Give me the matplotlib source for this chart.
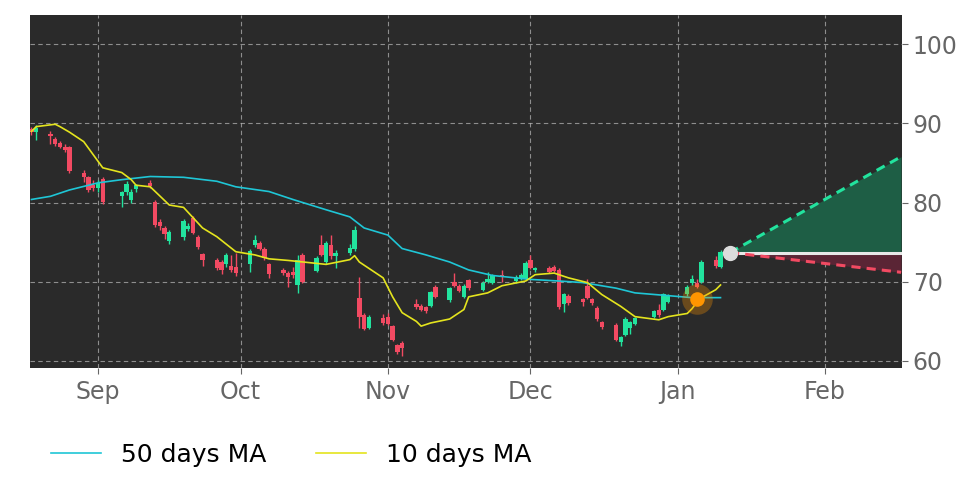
import matplotlib
matplotlib.use('Agg')
import matplotlib.pyplot as plt
import matplotlib.dates as mdates
import numpy as np
import pandas as pd
from matplotlib.lines import Line2D

# ---------------- data ----------------
holidays = ['2022-09-05', '2022-11-24', '2022-12-26', '2023-01-02']
dates = pd.bdate_range('2022-08-18', '2023-01-10')
dates = dates[~dates.isin(pd.to_datetime(holidays))]

opens = [89.3, 88.9, 88.7, 88.0, 87.5, 87.0, 87.0, 83.8, 83.2, 82.2,
         81.9, 83.0, 80.8, 81.3, 80.3, 81.7, 82.5, 80.1, 77.6, 76.8,
         75.1, 75.6, 76.7, 78.1, 75.7, 73.5, 72.7, 72.5, 72.2, 72.0,
         71.9, 72.2, 74.7, 74.9, 74.2, 72.2, 71.5, 71.1, 71.3, 69.6,
         73.4, 71.4, 74.7, 72.5, 74.7, 73.2, 73.7, 74.1, 68.0, 65.8,
         64.2, 65.4, 65.6, 64.4, 62.0, 62.3, 67.2, 66.9, 66.8, 67.0,
         69.4, 67.7, 70.0, 69.5, 68.1, 70.2, 69.0, 70.0, 69.9, 70.9,
         70.1, 70.4, 70.4, 72.8, 71.5, 71.8, 71.9, 71.5, 67.2, 68.2,
         67.8, 69.5, 67.8, 66.7, 64.9, 64.6, 62.4, 63.3, 64.2, 64.7,
         65.6, 66.4, 66.5, 67.5, 68.4, 69.9, 69.9, 70.0, 72.8, 71.9]
highs = [89.6, 89.8, 89.0, 88.3, 87.8, 87.4, 87.2, 84.1, 83.4, 82.8,
         82.8, 83.3, 81.5, 82.7, 81.7, 82.4, 82.8, 80.3, 77.9, 77.0,
         76.5, 77.9, 77.4, 78.3, 75.9, 73.7, 73.0, 72.8, 73.6, 73.4,
         73.6, 74.2, 75.9, 75.2, 74.4, 72.4, 71.8, 71.4, 71.9, 73.4,
         73.6, 73.2, 75.9, 75.1, 75.9, 74.0, 74.8, 77.0, 70.6, 66.0,
         65.8, 65.9, 66.0, 64.6, 62.2, 62.5, 67.8, 67.2, 67.0, 68.9,
         69.6, 69.4, 71.1, 69.7, 69.7, 70.4, 70.1, 71.2, 71.0, 71.5,
         70.8, 71.1, 72.6, 73.4, 71.9, 72.0, 72.1, 71.8, 68.6, 68.4,
         68.0, 70.3, 68.0, 66.9, 65.1, 64.8, 63.2, 65.5, 65.1, 65.6,
         66.5, 67.2, 68.6, 68.4, 69.6, 70.8, 70.4, 72.7, 73.2, 74.0]
lows = [88.6, 87.9, 87.4, 87.2, 86.9, 86.4, 83.8, 82.6, 81.4, 81.5,
        81.4, 79.8, 79.4, 81.0, 80.0, 81.4, 81.9, 76.9, 76.6, 75.4,
        74.8, 75.3, 76.4, 76.0, 74.2, 72.0, 71.5, 71.0, 71.9, 71.2,
        70.7, 71.3, 74.4, 74.0, 72.8, 70.5, 70.9, 69.4, 70.5, 68.6,
        69.9, 71.2, 73.2, 72.3, 72.9, 71.8, 73.4, 73.9, 64.2, 63.9,
        64.0, 64.6, 64.5, 62.5, 60.9, 60.6, 66.6, 66.3, 66.1, 66.8,
        67.9, 67.5, 69.3, 68.7, 67.9, 69.0, 68.8, 69.8, 69.7, 70.0,
        69.9, 70.2, 70.2, 71.6, 71.3, 71.1, 71.2, 66.6, 66.2, 67.1,
        66.9, 67.8, 67.1, 65.1, 64.1, 62.5, 61.9, 63.1, 63.4, 64.5,
        65.4, 65.6, 66.3, 67.3, 68.2, 69.6, 69.2, 69.8, 71.8, 71.7]
closes = [88.9, 89.4, 88.4, 87.4, 87.0, 86.6, 84.0, 83.3, 81.6, 81.8,
          82.5, 80.1, 81.3, 82.4, 81.4, 82.2, 82.1, 77.2, 77.0, 76.1,
          76.3, 77.7, 77.1, 76.2, 74.4, 72.7, 71.8, 71.5, 73.4, 71.5,
          71.1, 73.9, 75.3, 74.2, 73.0, 71.0, 71.1, 70.6, 70.9, 72.8,
          70.0, 73.0, 73.4, 74.9, 73.2, 73.7, 74.3, 76.6, 65.6, 64.1,
          65.6, 64.8, 64.7, 62.7, 61.1, 61.6, 66.8, 66.5, 66.3, 68.7,
          68.1, 69.2, 69.5, 68.9, 69.5, 69.2, 69.9, 70.3, 70.8, 70.6,
          70.6, 70.9, 72.4, 71.8, 71.8, 71.3, 71.4, 66.8, 68.4, 67.3,
          67.5, 68.0, 67.3, 65.3, 64.3, 62.7, 63.0, 65.3, 64.9, 65.4,
          66.3, 65.8, 68.4, 68.2, 69.4, 70.3, 69.4, 72.5, 72.0, 73.8]

ma50_dates = ['2022-08-18', '2022-08-22', '2022-08-26', '2022-09-01', '2022-09-06',
              '2022-09-12', '2022-09-19', '2022-09-26', '2022-09-30', '2022-10-07',
              '2022-10-12', '2022-10-19', '2022-10-24', '2022-10-27', '2022-11-01',
              '2022-11-04', '2022-11-09', '2022-11-14', '2022-11-18', '2022-11-23',
              '2022-12-01', '2022-12-07', '2022-12-12', '2022-12-19', '2022-12-23',
              '2022-12-29', '2023-01-04', '2023-01-10']
ma50_vals = [80.4, 80.8, 81.6, 82.5, 82.9, 83.3, 83.2, 82.7, 82.0, 81.4,
             80.4, 79.1, 78.2, 76.8, 75.9, 74.2, 73.4, 72.5, 71.5, 70.8,
             70.3, 70.1, 69.9, 69.2, 68.6, 68.3, 68.0, 68.0]

ma10_dates = ['2022-08-18', '2022-08-19', '2022-08-23', '2022-08-24', '2022-08-26',
              '2022-08-29', '2022-09-02', '2022-09-06', '2022-09-08', '2022-09-09',
              '2022-09-12', '2022-09-16', '2022-09-19', '2022-09-23', '2022-09-26',
              '2022-09-30', '2022-10-04', '2022-10-07', '2022-10-11', '2022-10-19',
              '2022-10-24', '2022-10-25', '2022-10-26', '2022-10-31', '2022-11-02',
              '2022-11-04', '2022-11-07', '2022-11-08', '2022-11-10', '2022-11-14',
              '2022-11-17', '2022-11-18', '2022-11-22', '2022-11-25', '2022-11-30',
              '2022-12-02', '2022-12-06', '2022-12-09', '2022-12-13', '2022-12-16',
              '2022-12-20', '2022-12-23', '2022-12-28', '2022-12-30', '2023-01-03',
              '2023-01-04', '2023-01-05', '2023-01-06', '2023-01-09', '2023-01-10']
ma10_vals = [89.0, 89.6, 89.9, 89.6, 88.9, 87.7, 84.4, 83.8, 82.9, 82.2,
             82.0, 79.7, 79.4, 76.8, 75.7, 73.8, 73.4, 72.9, 72.7, 72.2,
             72.8, 73.3, 72.5, 70.5, 68.1, 66.1, 65.0, 64.4, 64.8, 65.3,
             66.5, 68.1, 68.6, 69.5, 70.1, 70.9, 71.1, 70.5, 69.9, 68.4,
             66.9, 65.6, 65.2, 65.6, 66.0, 66.6, 67.4, 68.0, 69.0, 69.6]

forecast_dates = ['2023-01-12', '2023-02-17']
forecast_base = [73.7, 73.7]
forecast_upper = [73.7, 85.8]
forecast_lower = [73.7, 71.2]

last_point = ('2023-01-12', 73.7)
cross_point = ('2023-01-05', 67.8)

month_ticks = ['2022-09-01', '2022-10-01', '2022-11-01', '2022-12-01', '2023-01-01', '2023-02-01']
month_labels = ['Sep', 'Oct', 'Nov', 'Dec', 'Jan', 'Feb']
y_ticks = [60, 70, 80, 90, 100]

# ---------------- styling ----------------
UP = '#22e39e'
DOWN = '#f24a62'
BG = '#2a2a2a'
TICKC = '#666666'

fig = plt.figure(figsize=(9.72, 4.86), dpi=100)
ax = fig.add_axes([30 / 972, 1 - 367.7 / 486, (901.7 - 30) / 972, (367.7 - 15) / 486])
ax.set_facecolor(BG)

x = mdates.date2num(dates.to_pydatetime())
o = np.array(opens); h = np.array(highs); l = np.array(lows); c = np.array(closes)
up = c >= o
cols = np.where(up, UP, DOWN)

ax.vlines(x, l, h, colors=cols, linewidth=1.0, zorder=3)
body_bottom = np.minimum(o, c)
body_h = np.maximum(np.abs(c - o), 0.1)
ax.bar(x, body_h, bottom=body_bottom, width=0.92, color=cols, linewidth=0, zorder=4)

# moving averages
x50 = mdates.date2num(pd.to_datetime(ma50_dates).to_pydatetime())
x10 = mdates.date2num(pd.to_datetime(ma10_dates).to_pydatetime())
ax.plot(x50, ma50_vals, color='#1fc6d6', linewidth=1.2, zorder=5)
ax.plot(x10, ma10_vals, color='#e4e41e', linewidth=1.2, zorder=5)

# forecast cone
xf = mdates.date2num(pd.to_datetime(forecast_dates).to_pydatetime())
ax.fill_between(xf, forecast_base, forecast_upper, color='#1e5e45', linewidth=0, zorder=2)
ax.fill_between(xf, forecast_lower, forecast_base, color='#5a2535', linewidth=0, zorder=2)
ax.plot(xf, forecast_base, color='#e8e8e8', linewidth=2.2, zorder=6)
ax.plot(xf, forecast_upper, color='#22e39e', linewidth=2.2, linestyle=(0, (3, 2)), zorder=6)
ax.plot(xf, forecast_lower, color='#f24a62', linewidth=2.2, linestyle=(0, (3, 2)), zorder=6)

# markers
lx = mdates.date2num(pd.to_datetime(last_point[0]))
ax.plot([lx], [last_point[1]], 'o', color='#dcdcdc', markersize=10, zorder=8)
cx = mdates.date2num(pd.to_datetime(cross_point[0]))
ax.plot([cx], [cross_point[1]], 'o', color='#ff9500', alpha=0.3, markersize=22, markeredgewidth=0, zorder=7)
ax.plot([cx], [cross_point[1]], 'o', color='#ff9500', markersize=10.5, markeredgewidth=0, zorder=8)

# axes
x0 = mdates.date2num(pd.Timestamp('2022-08-17')) + 0.69
x1 = mdates.date2num(pd.Timestamp('2023-02-17')) + 0.13
ax.set_xlim(x0, x1)
ax.set_ylim(59.15, 103.7)

ax.set_xticks(mdates.date2num(pd.to_datetime(month_ticks).to_pydatetime()))
ax.set_xticklabels(month_labels)
ax.set_yticks(y_ticks)
ax.set_yticklabels([str(v) for v in y_ticks])
ax.yaxis.tick_right()
ax.tick_params(axis='both', colors=TICKC, labelsize=17, length=4, width=0.8)
ax.tick_params(axis='x', pad=5)
ax.tick_params(axis='y', pad=4)

ax.grid(True, color='#b0b0b0', linestyle=(0, (4, 3)), linewidth=0.8, alpha=0.75)
ax.set_axisbelow(True)
for s in ax.spines.values():
    s.set_visible(False)

handles = [Line2D([], [], color='#1fc6d6', linewidth=1.2),
           Line2D([], [], color='#e4e41e', linewidth=1.2)]
fig.legend(handles, ['50 days MA', '10 days MA'], loc='center left',
           bbox_to_anchor=(50.7 / 972, 1 - 455 / 486), ncol=2, frameon=False,
           fontsize=18, handlelength=2.0, handletextpad=0.8, columnspacing=2.0,
           borderpad=0, borderaxespad=0)

fig.savefig('out.png', dpi=100)
